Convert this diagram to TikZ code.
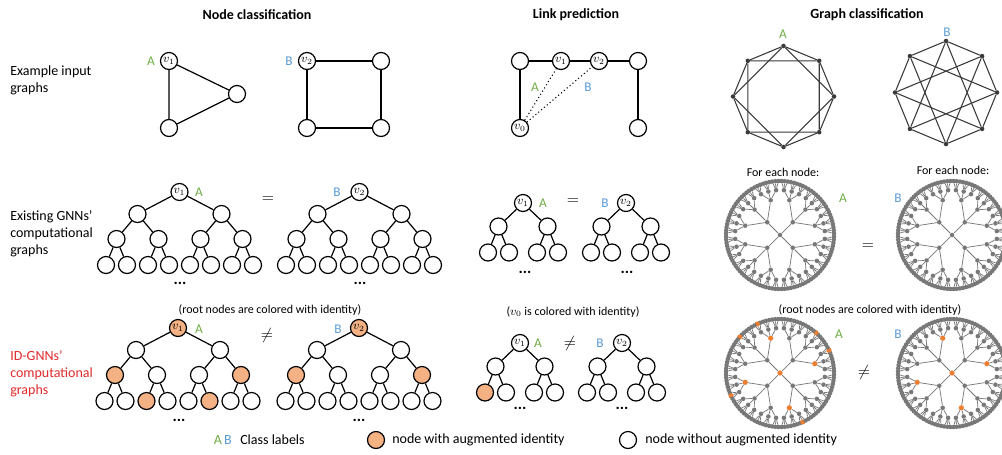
\documentclass[tikz,border=0pt]{standalone}
\usepackage{fontspec}
\setmainfont{Carlito}
\definecolor{cA}{HTML}{70AD47}
\definecolor{cB}{HTML}{5B9BD5}
\definecolor{orF}{HTML}{F4B183}
\definecolor{orD}{HTML}{ED7D31}
\definecolor{gD}{HTML}{787878}
\definecolor{gE}{HTML}{3A3A3A}
\definecolor{redT}{HTML}{E02B2B}
\newcommand\markor[2]{\foreach \q in {#2}{\expandafter\gdef\csname OR#1-\q\endcsname{}}}
\newcommand\setfc[1]{\ifcsname OR#1\endcsname\def\fc{orF}\else\def\fc{white}\fi}
\newcommand\setdc[1]{\ifcsname OR#1\endcsname\def\dc{orD}\def\ds{3.9pt}\else\def\dc{gD}\def\ds{3.4pt}\fi}
\tikzset{
  nd/.style={circle,draw=black,line width=0.9pt,minimum size=12.75pt,inner sep=0pt,font=\fontsize{9}{9}\selectfont},
  edge/.style={line width=0.9pt},
  gdot/.style={circle,inner sep=0pt,draw=none},
  gedge/.style={draw=gD,line width=0.55pt},
  kdot/.style={circle,inner sep=0pt,minimum size=3.4pt,fill=gE,draw=none},
  kedge/.style={draw=gE,line width=0.8pt},
  ttl/.style={font=\fontsize{10.5}{12}\selectfont\bfseries},
  rowlbl/.style={anchor=west,align=left,inner sep=0pt,font=\fontsize{10.5}{12.75}\selectfont},
  clsA/.style={text=cA,inner sep=0pt,font=\fontsize{10}{12}\selectfont},
  clsB/.style={text=cB,inner sep=0pt,font=\fontsize{10}{12}\selectfont},
  note/.style={font=\fontsize{9}{10}\selectfont},
  eqs/.style={font=\fontsize{12}{12}\selectfont},
  dots/.style={inner sep=0pt,font=\fontsize{12}{12}\selectfont\bfseries},
  leg/.style={anchor=west,inner sep=0pt,font=\fontsize{10.5}{12}\selectfont},
}
% binary computational tree (node classification)
\newcommand\nctree[4]{%
  \setfc{#1-r}%
  \node[nd,fill=\fc] (#1-r) at (#2,#3) {#4};
  \foreach \i in {1,2}{%
    \pgfmathsetmacro\xx{#2-42+84*(\i-1)}%
    \pgfmathsetmacro\yy{#3+22}%
    \setfc{#1-1-\i}%
    \node[nd,fill=\fc] (#1-1-\i) at (\xx,\yy) {};
    \draw[edge] (#1-r) -- (#1-1-\i);
  }
  \foreach \i in {1,...,4}{%
    \pgfmathsetmacro\xx{#2-63+42*(\i-1)}%
    \pgfmathsetmacro\yy{#3+47}%
    \pgfmathtruncatemacro\pp{(\i+1)/2}%
    \setfc{#1-2-\i}%
    \node[nd,fill=\fc] (#1-2-\i) at (\xx,\yy) {};
    \draw[edge] (#1-1-\pp) -- (#1-2-\i);
  }
  \foreach \i in {1,...,8}{%
    \pgfmathsetmacro\xx{#2-73.5+21*(\i-1)}%
    \pgfmathsetmacro\yy{#3+73}%
    \pgfmathtruncatemacro\pp{(\i+1)/2}%
    \setfc{#1-3-\i}%
    \node[nd,fill=\fc] (#1-3-\i) at (\xx,\yy) {};
    \draw[edge] (#1-2-\pp) -- (#1-3-\i);
  }
}
% small binary tree (link prediction)
\newcommand\lktree[4]{%
  \setfc{#1-r}%
  \node[nd,fill=\fc] (#1-r) at (#2,#3) {#4};
  \foreach \i in {1,2}{%
    \pgfmathsetmacro\xx{#2-24.5+49*(\i-1)}%
    \pgfmathsetmacro\yy{#3+23.5}%
    \setfc{#1-1-\i}%
    \node[nd,fill=\fc] (#1-1-\i) at (\xx,\yy) {};
    \draw[edge] (#1-r) -- (#1-1-\i);
  }
  \foreach \i in {1,...,4}{%
    \pgfmathtruncatemacro\pp{(\i+1)/2}%
    \pgfmathsetmacro\xx{#2-24.5+49*(\pp-1)+(mod(\i+1,2)*2-1)*10.5}%
    \pgfmathsetmacro\yy{#3+49.5}%
    \setfc{#1-2-\i}%
    \node[nd,fill=\fc] (#1-2-\i) at (\xx,\yy) {};
    \draw[edge] (#1-1-\pp) -- (#1-2-\i);
  }
}
% radial tree (graph classification)
\newcommand\radtree[3]{%
  \setdc{#1-r}%
  \node[gdot,fill=\dc,minimum size=\ds] (#1-r) at (#2,#3) {};
  \foreach \k in {0,...,3}{%
    \pgfmathsetmacro\xx{#2+18*cos(90*\k+45)}%
    \pgfmathsetmacro\yy{#3-18*sin(90*\k+45)}%
    \setdc{#1-1-\k}%
    \node[gdot,fill=\dc,minimum size=\ds] (#1-1-\k) at (\xx,\yy) {};
    \draw[gedge] (#1-r) -- (#1-1-\k);
  }
  \foreach \k in {0,...,11}{%
    \pgfmathsetmacro\xx{#2+36*cos(30*\k+15)}%
    \pgfmathsetmacro\yy{#3-36*sin(30*\k+15)}%
    \pgfmathtruncatemacro\pp{floor(\k/3)}%
    \setdc{#1-2-\k}%
    \node[gdot,fill=\dc,minimum size=\ds] (#1-2-\k) at (\xx,\yy) {};
    \draw[gedge] (#1-1-\pp) -- (#1-2-\k);
  }
  \foreach \k in {0,...,35}{%
    \pgfmathsetmacro\xx{#2+45*cos(10*\k+5)}%
    \pgfmathsetmacro\yy{#3-45*sin(10*\k+5)}%
    \pgfmathtruncatemacro\pp{floor(\k/3)}%
    \setdc{#1-3-\k}%
    \node[gdot,fill=\dc,minimum size=\ds] (#1-3-\k) at (\xx,\yy) {};
    \draw[gedge] (#1-2-\pp) -- (#1-3-\k);
  }
  \foreach \k in {0,...,107}{%
    \pgfmathsetmacro\xx{#2+54*cos((\k+0.5)*10/3)}%
    \pgfmathsetmacro\yy{#3-54*sin((\k+0.5)*10/3)}%
    \pgfmathtruncatemacro\pp{floor(\k/3)}%
    \setdc{#1-4-\k}%
    \node[gdot,fill=\dc,minimum size=\ds] (#1-4-\k) at (\xx,\yy) {};
    \draw[gedge] (#1-3-\pp) -- (#1-4-\k);
  }
}
\begin{document}
\begin{tikzpicture}[x=0.75pt,y=-0.75pt]
\useasboundingbox[fill=white] (0,0) rectangle (1002,454);

% titles
\node[ttl] (h1) at (257,15) {Node classification};
\node[ttl] (h2) at (576,15) {Link prediction};
\node[ttl] (h3) at (867,15) {Graph classification};

% row labels
\node[rowlbl] (rl1) at (10,80.5) {Example input\\graphs};
\node[rowlbl] (rl2) at (10,234) {Existing GNNs’\\computational\\graphs};
\node[rowlbl,text=redT] (rl3) at (10,374) {ID-GNNs’\\computational\\graphs};

% ---------- top row: node classification
\node[nd] (t1) at (169,61) {$v_1$};
\node[nd] (t2) at (237,94) {};
\node[nd] (t3) at (169,128) {};
\draw[edge] (t1) -- (t2) -- (t3) -- (t1);
\node[clsA] (tA) at (151,61) {A};
\node[nd] (s1) at (307,61) {$v_2$};
\node[nd] (s2) at (381,61) {};
\node[nd] (s3) at (381,128) {};
\node[nd] (s4) at (307,128) {};
\draw[edge] (s1) -- (s2) -- (s3) -- (s4) -- (s1);
\node[clsB] (sB) at (289,61) {B};

% ---------- top row: link prediction
\node[nd] (la) at (520,61) {};
\node[nd] (l1) at (561,61) {$v_1$};
\node[nd] (l2) at (599,61) {$v_2$};
\node[nd] (lb) at (638,61) {};
\node[nd] (lc) at (638,128) {};
\node[nd] (l0) at (520,128) {$v_0$};
\draw[line width=1.2pt] (la) -- (l1) -- (l2);
\draw[edge] (l2) -- (lb) -- (lc);
\draw[edge] (la) -- (l0);
\draw[dotted,line width=0.8pt] (l0) -- (l1) (l0) -- (l2);
\node[clsA] (lA) at (535,87) {A};
\node[clsB] (lB) at (588,87) {B};

% ---------- top row: graph classification
\foreach \k in {0,...,7}{%
  \pgfmathsetmacro\xx{783.5+50.5*cos(90-45*\k)}%
  \pgfmathsetmacro\yy{96.5-50.5*sin(90-45*\k)}%
  \node[kdot] (gA-\k) at (\xx,\yy) {};
  \pgfmathsetmacro\xx{946+51*cos(90-45*\k)}%
  \pgfmathsetmacro\yy{92.5-51.5*sin(90-45*\k)}%
  \node[kdot] (gB-\k) at (\xx,\yy) {};
}
\foreach \k in {0,...,7}{%
  \pgfmathtruncatemacro\ka{mod(\k+1,8)}%
  \pgfmathtruncatemacro\kb{mod(\k+2,8)}%
  \pgfmathtruncatemacro\kc{mod(\k+3,8)}%
  \draw[kedge] (gA-\k) -- (gA-\ka) (gA-\k) -- (gA-\kb);
  \draw[kedge] (gB-\k) -- (gB-\ka) (gB-\k) -- (gB-\kc);
}
\node[clsA] (gAl) at (783,34) {A};
\node[clsB] (gBl) at (947,32) {B};

% ---------- middle row
\nctree{NA}{179.5}{192}{$v_1$}
\nctree{NB}{359.5}{192}{$v_2$}
\node[clsA] (nAl) at (199,192) {A};
\node[clsB] (nBl) at (337,192) {B};
\node[eqs] (eq1) at (268,200) {$=$};
\node[dots] (d1) at (180,283) {...};
\node[dots] (d2) at (360,283) {...};

\lktree{LA}{523}{203}{$v_1$}
\lktree{LB}{626}{203}{$v_2$}
\node[clsA] (kAl) at (543,203) {A};
\node[clsB] (kBl) at (605,203) {B};
\node[eqs] (eq2) at (573,202) {$=$};
\node[dots] (d3) at (525,272) {...};
\node[dots] (d4) at (627,272) {...};

\node[note] (fe1) at (783,172) {For each node:};
\node[note] (fe2) at (953,170) {For each node:};
\radtree{RA1}{780}{235}
\radtree{RB1}{952}{235}
\node[clsA] (rAl) at (843,198) {A};
\node[clsB] (rBl) at (898,198) {B};
\node[eqs] (eq3) at (868,247) {$=$};

% ---------- bottom row
\node[note] (n1) at (270,310) {(root nodes are colored with identity)};
\markor{NC}{r,2-1,2-4,3-3,3-6}
\markor{ND}{r,2-1,2-4}
\nctree{NC}{178}{328}{$v_1$}
\nctree{ND}{359}{328}{$v_2$}
\node[clsA] (cAl) at (199,329) {A};
\node[clsB] (cBl) at (338,329) {B};
\node[eqs] (ne1) at (267,335) {$\neq$};
\node[dots] (d5) at (179,420) {...};
\node[dots] (d6) at (359,420) {...};

\node[note] (n2) at (573,312) {($v_0$ is colored with identity)};
\markor{LC}{2-1}
\lktree{LC}{520}{343}{$v_1$}
\lktree{LD}{622}{343}{$v_2$}
\node[clsA] (mAl) at (538,343) {A};
\node[clsB] (mBl) at (600,343) {B};
\node[eqs] (ne2) at (570,343) {$\neq$};
\node[dots] (d7) at (520,408) {...};
\node[dots] (d8) at (622,408) {...};

\node[note] (n3) at (870,310) {(root nodes are colored with identity)};
\markor{RA2}{r,2-0,2-3,2-6,2-9,4-7,4-14,4-34,4-41,4-61,4-88}
\markor{RB2}{r,2-0,2-3,2-6,2-9}
\radtree{RA2}{780}{373}
\radtree{RB2}{952}{373}
\node[clsA] (qAl) at (839,334) {A};
\node[clsB] (qBl) at (898,334) {B};
\node[eqs] (ne3) at (864,372) {$\neq$};

% ---------- legend
\node[clsA,font=\fontsize{10.5}{12}\selectfont] (gA) at (218,440) {A};
\node[clsB,font=\fontsize{10.5}{12}\selectfont] (gB) at (228,440) {B};
\node[leg] (gt1) at (240,440) {Class labels};
\node[nd,fill=orF] (go) at (376,440) {};
\node[leg] (gt2) at (392,440) {node with augmented identity};
\node[nd,fill=white] (gw) at (628,440) {};
\node[leg] (gt3) at (645,440) {node without augmented identity};
\end{tikzpicture}
\end{document}
